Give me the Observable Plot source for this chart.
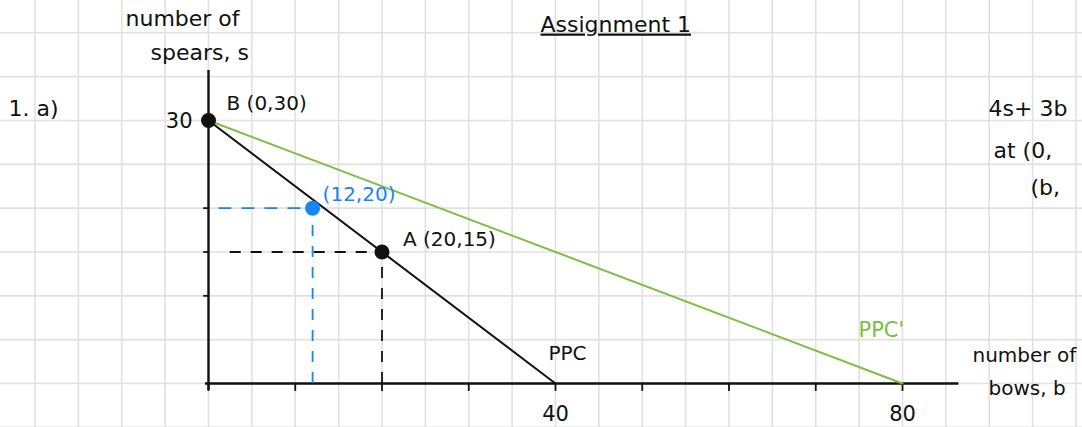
<!DOCTYPE html>
<html>
<head>
<meta charset="utf-8">
<script src="https://cdn.jsdelivr.net/npm/d3@7"></script>
<script src="https://cdn.jsdelivr.net/npm/@observablehq/plot@0.6"></script>
<style>
  html, body { margin: 0; padding: 0; background: #fff; overflow: hidden; }
  #chart svg { display: block; }
</style>
</head>
<body>
<div id="chart"></div>
<script>
// Production possibilities: bows (b) against spears (s)
const ppcBows = [0, 40];
const ppcSpears = [30, 0];
const ppc2Bows = [0, 80];
const ppc2Spears = [30, 0];

const pointNames = ["B (0,30)", "A (20,15)", "(12,20)"];
const pointBows = [0, 20, 12];
const pointSpears = [30, 15, 20];

const xTickValues = [0, 10, 20, 30, 40, 50, 60, 70, 80];
const xTickLabels = [40, 80];
const yTickValues = [10, 15, 20];
const yTickLabels = [30];

const toRows = (bs, ss) => bs.map((b, i) => ({b, s: ss[i]}));
const ppc = toRows(ppcBows, ppcSpears);
const ppc2 = toRows(ppc2Bows, ppc2Spears);
const points = pointNames.map((name, i) => ({name, b: pointBows[i], s: pointSpears[i]}));
const B = points[0], A = points[1], C = points[2];

const ink = "#111";
const green = "#7abf3d";
const blue = "#1787f5";
const paper = "#e1e1e1";
const font = "'DejaVu Sans', sans-serif";

const note = (text, dx, dy, extra = {}) =>
  Plot.text([text], {frameAnchor: "top-left", textAnchor: "start", lineAnchor: "middle", dx, dy, fill: ink, fontSize: 22, ...extra});

const chart = Plot.plot({
  width: 1082,
  height: 427,
  margin: 0,
  x: {domain: [-23.977, 100.75], axis: null},
  y: {domain: [-5.019, 43.687], axis: null},
  style: {fontFamily: font, background: "#fff"},
  marks: [
    // squared paper
    Plot.ruleX(d3.range(-20, 101, 5), {stroke: paper, strokeWidth: 1.6}),
    Plot.ruleY(d3.range(-5, 45, 5), {stroke: paper, strokeWidth: 1.6}),

    // axes
    Plot.ruleY([0], {x1: -0.35, x2: 86.5, stroke: ink, strokeWidth: 2.4}),
    Plot.ruleX([0], {y1: -0.8, y2: 35.7, stroke: ink, strokeWidth: 2.4}),
    Plot.ruleX(xTickValues, {y1: 0, y2: -0.9, stroke: ink, strokeWidth: 1.8}),
    Plot.ruleY(yTickValues, {x1: 0, x2: -0.55, stroke: ink, strokeWidth: 1.8}),
    Plot.text(xTickLabels, {x: d => d, y: 0, dy: 31, text: d => String(d), fill: ink, fontSize: 21}),
    Plot.text(yTickLabels, {x: 0, y: d => d, dx: -16, dy: 1, textAnchor: "end", text: d => String(d), fill: ink, fontSize: 21}),

    // guides to A and to (12,20)
    Plot.ruleY([A], {y: "s", x1: 2.5, x2: "b", stroke: ink, strokeWidth: 1.8, strokeDasharray: "11,10"}),
    Plot.ruleX([A], {x: "b", y1: 0, y2: "s", stroke: ink, strokeWidth: 1.8, strokeDasharray: "11,10"}),
    Plot.ruleY([C], {y: "s", x1: 1.2, x2: "b", stroke: blue, strokeWidth: 1.8, strokeDasharray: "13,10"}),
    Plot.ruleX([C], {x: "b", y1: 0, y2: "s", stroke: blue, strokeWidth: 1.8, strokeDasharray: "11,10"}),

    // frontiers
    Plot.line(ppc2, {x: "b", y: "s", stroke: green, strokeWidth: 2}),
    Plot.line(ppc, {x: "b", y: "s", stroke: ink, strokeWidth: 2}),

    // points
    Plot.dot([B, A], {x: "b", y: "s", r: 7.5, fill: ink}),
    Plot.dot([C], {x: "b", y: "s", r: 7.5, fill: blue}),
    Plot.text([B], {x: "b", y: "s", text: "name", dx: 18, dy: -17, textAnchor: "start", fill: ink, fontSize: 20}),
    Plot.text([A], {x: "b", y: "s", text: "name", dx: 21, dy: -12, textAnchor: "start", fill: ink, fontSize: 20}),
    Plot.text([C], {x: "b", y: "s", text: "name", dx: 10, dy: -14, textAnchor: "start", fill: blue, fontSize: 20}),
    Plot.text([ppc[1]], {x: "b", y: "s", text: () => "PPC", dx: -7, dy: -30, textAnchor: "start", fill: ink, fontSize: 20}),
    Plot.text([ppc2[1]], {x: "b", y: "s", text: () => "PPC'", dx: -44, dy: -53, textAnchor: "start", fill: green, fontSize: 21}),

    // axis titles and notes
    note("number of", 125, 18),
    note("spears, s", 150, 52),
    note("number of", 972, 355, {fontSize: 20}),
    note("bows, b", 988, 388, {fontSize: 20}),
    note("Assignment 1", 540, 24, {className: "title", fontSize: 22}),
    note("1. a)", 8, 108),
    note("4s+ 3b", 988, 108),
    note("at (0,", 993, 150),
    note("(b,", 1030, 187)
  ]
});

d3.select(chart).selectAll(".title text").style("text-decoration", "underline");
document.getElementById("chart").append(chart);
</script>
</body>
</html>
